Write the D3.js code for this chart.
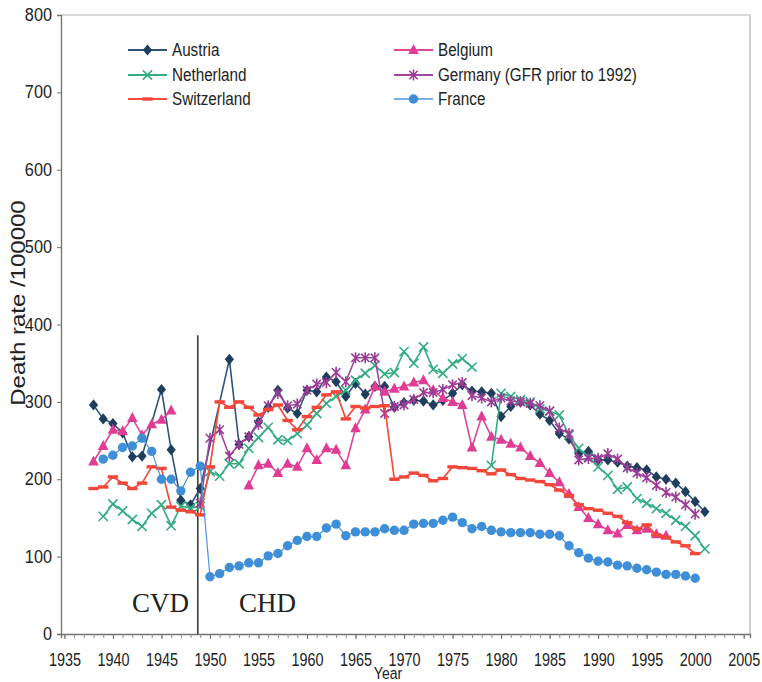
<!DOCTYPE html>
<html><head><meta charset="utf-8">
<script src="https://cdn.jsdelivr.net/npm/d3@7"></script>
<style>body{margin:0;background:#fff}svg{display:block}</style>
</head><body>
<svg id="c" width="762" height="682"></svg>
<script>
// ---------- data (death rate per 100000) ----------
const xTickYears = [1935,1940,1945,1950,1955,1960,1965,1970,1975,1980,1985,1990,1995,2000,2005];
const yTicks = [0,100,200,300,400,500,600,700,800];

const austriaStart = 1938;
const austriaValues = [296,278,272,260,229,230,null,316,238,173,167,188,null,null,
  355,245,255,274,293,315,292,285,315,313,332,326,307,324,310,320,320,293,299,302,301,296,302,311,322,314,313,311,
  281,294,300,296,284,276,259,252,233,236,225,225,222,217,215,212,203,200,195,184,171,158];

const belgiumStart = 1938;
const belgiumValues = [223,243,264,262,279,257,271,277,289,null,null,null,null,null,null,null,
  192,218,220,208,220,216,240,225,240,238,218,266,290,320,313,317,320,325,328,315,305,300,296,241,281,255,
  251,246,241,230,221,208,196,181,164,150,142,134,130,141,134,136,129,127];

const netherlandStart = 1939;
const netherlandValues = [152,168,159,148,139,156,167,140,165,163,165,
  210,204,220,220,240,254,267,251,250,259,270,285,298,307,315,328,337,347,336,338,365,350,371,342,337,349,356,345,null,218,
  311,307,303,300,291,288,283,257,240,229,216,205,187,190,175,169,162,156,147,139,127,110];

const germanyStart = 1949;
const germanyValues = [169,253,264,230,245,255,271,295,311,295,297,315,323,325,338,326,357,357,357,285,294,296,303,312,312,316,322,325,308,305,300,
  305,301,300,298,295,288,266,259,225,227,227,233,226,215,208,202,192,183,177,167,155];

const switzerlandStart = 1938;
const switzerlandValues = [188,190,203,195,188,195,216,214,164,160,158,154,
  216,300,293,300,293,283,290,296,276,264,281,293,309,313,278,294,292,294,295,200,203,208,205,198,201,216,215,214,211,207,
  212,206,201,199,197,193,186,179,167,162,160,156,152,144,136,141,128,125,119,114,104];

const franceStart = 1939;
const franceValues = [226,231,241,243,253,236,200,200,185,209,217,
  74,78,86,88,92,92,101,104,114,121,126,126,137,142,127,132,132,132,136,134,
  134,142,143,143,147,151,144,136,139,134,132,131,131,131,129,129,127,114,105,98,
  94,93,89,88,85,83,80,77,77,75,72];

const seriesNames = ["Austria","Belgium","Netherland","Germany (GFR prior to 1992)","Switzerland","France"];

// ---------- layout ----------
const X0 = 61, X1 = 750, Y0 = 634, Y1 = 15;
const svg = d3.select('#c');
const x = d3.scaleLinear().domain([1934.65, 2005.65]).range([X0, X1]);
const y = d3.scaleLinear().domain([0, 800]).range([Y0, Y1]);
const FONT = "'Liberation Sans', Arial, sans-serif";

function toPoints(start, vals){ return vals.map((v,i)=>({year:start+i, value:v})); }

const series = [
  {name:seriesNames[0], pts:toPoints(austriaStart, austriaValues), line:'#2f5479', fill:'#1f3d5c', marker:'diamond', bridge:true, lw:1.6},
  {name:seriesNames[1], pts:toPoints(belgiumStart, belgiumValues), line:'#e2449a', fill:'#e03c94', marker:'triangle', lw:1.6},
  {name:seriesNames[2], pts:toPoints(netherlandStart, netherlandValues), line:'#33ad80', fill:'#33ad80', marker:'cross', lw:1.6},
  {name:seriesNames[3], pts:toPoints(germanyStart, germanyValues), line:'#a0479d', fill:'#9c3c96', marker:'star', lw:1.6},
  {name:seriesNames[4], pts:toPoints(switzerlandStart, switzerlandValues), line:'#f24c3c', fill:'#f2473a', marker:'dash', lw:1.7},
  {name:seriesNames[5], pts:toPoints(franceStart, franceValues), line:'#4d95d8', fill:'#3f8fd8', marker:'circle', lw:1.2}
];

// frame (top and right)
svg.append('path').attr('d', `M${X0},${Y1}H${X1}V${Y0}`)
  .attr('fill','none').attr('stroke','#b4b4b4').attr('stroke-width',1.2);

// y axis
const yAx = svg.append('g').attr('transform',`translate(${X0},0)`)
  .call(d3.axisLeft(y).tickValues(yTicks).tickSize(4).tickFormat(d3.format('d')));
yAx.select('.domain').attr('stroke','#707070').attr('stroke-width',1.3);
yAx.selectAll('.tick line').attr('stroke','#707070');
yAx.selectAll('.tick text').attr('x',-9.7).attr('font-family',FONT).attr('font-size',17.5)
  .attr('fill','#222').attr('transform','scale(0.93,1)');

// x axis: minor ticks each year, labels every 5
const allYears = d3.range(1935, 2006);
const xMinor = svg.append('g').attr('transform',`translate(0,${Y0})`)
  .call(d3.axisBottom(x).tickValues(allYears).tickSize(4).tickFormat(''));
xMinor.select('.domain').attr('stroke','#707070').attr('stroke-width',1.3);
xMinor.selectAll('.tick line').attr('stroke','#8a8a8a');
const xAx = svg.append('g').attr('transform',`translate(0,${Y0})`)
  .call(d3.axisBottom(x).tickValues(xTickYears).tickSize(5).tickPadding(14).tickFormat(d3.format('d')));
xAx.select('.domain').remove();
xAx.selectAll('.tick line').attr('stroke','#707070');
xAx.selectAll('.tick text').attr('font-family',FONT).attr('font-size',18)
  .attr('fill','#222').attr('transform','scale(0.8,1)');

// axis titles
svg.append('text').attr('transform','translate(388,679) scale(0.85,1)')
  .attr('text-anchor','middle').attr('font-family',FONT).attr('font-size',16.5).attr('fill','#222').text('Year');
svg.append('text').attr('transform','translate(25,303) rotate(-90) scale(1,0.82)')
  .attr('text-anchor','middle').attr('font-family',FONT).attr('font-size',24).attr('fill','#222')
  .text('Death rate /100000');

// CVD / CHD separator
const sepYear = 1948.75;
svg.append('line').attr('x1',x(sepYear)).attr('x2',x(sepYear)).attr('y1',y(386)).attr('y2',y(0))
  .attr('stroke','#222').attr('stroke-width',1.4);
svg.append('text').attr('x',132).attr('y',612).attr('font-family',"'Liberation Serif', 'Times New Roman', serif")
  .attr('font-size',27).attr('fill','#222').text('CVD');
svg.append('text').attr('x',239).attr('y',612).attr('font-family',"'Liberation Serif', 'Times New Roman', serif")
  .attr('font-size',27).attr('fill','#222').text('CHD');

// markers
function drawMarker(g, type, color){
  if(type==='diamond') g.append('path').attr('d','M0,-5.6L4.6,0L0,5.6L-4.6,0Z').attr('fill',color);
  else if(type==='triangle') g.append('path').attr('d','M0,-6L5.3,4L-5.3,4Z').attr('fill',color);
  else if(type==='cross') g.append('path').attr('d','M-4.6,-4.6L4.6,4.6M-4.6,4.6L4.6,-4.6').attr('stroke',color).attr('stroke-width',1.6).attr('fill','none');
  else if(type==='star') g.append('path').attr('d','M-4.2,-4.2L4.2,4.2M-4.2,4.2L4.2,-4.2M0,-5.6L0,5.6').attr('stroke',color).attr('stroke-width',1.6).attr('fill','none');
  else if(type==='dash') g.append('rect').attr('x',-5.2).attr('y',-1.7).attr('width',10.4).attr('height',3.4).attr('fill',color);
  else if(type==='circle') g.append('circle').attr('r',4.7).attr('fill',color);
}

const plot = svg.append('g');
series.forEach(s=>{
  const pts = s.bridge ? s.pts.filter(p=>p.value!==null) : s.pts;
  const line = d3.line().defined(p=>p.value!==null).x(p=>x(p.year)).y(p=>y(p.value));
  plot.append('path').datum(pts).attr('d',line).attr('fill','none')
    .attr('stroke',s.line).attr('stroke-width',s.lw).attr('stroke-linejoin','round');
  const mg = plot.append('g');
  s.pts.filter(p=>p.value!==null).forEach(p=>{
    const g = mg.append('g').attr('transform',`translate(${x(p.year)},${y(p.value)})`);
    drawMarker(g, s.marker, s.fill);
  });
});

// legend (two columns, row-wise order)
const legendPos = [[128,50],[394,50],[128,75],[394,75],[128,99],[394,99]];
series.forEach((s,i)=>{
  const [lx,ly] = legendPos[i];
  const g = svg.append('g').attr('transform',`translate(${lx},${ly})`);
  g.append('line').attr('x1',0).attr('x2',39).attr('y1',0).attr('y2',0).attr('stroke',s.line).attr('stroke-width',s.lw+0.3);
  const m = g.append('g').attr('transform','translate(19.5,0)');
  drawMarker(m, s.marker, s.fill);
  g.append('text').attr('transform','translate(44,0) scale(0.87,1)').attr('dy','0.36em')
    .attr('font-family',FONT).attr('font-size',17.5).attr('fill','#222').text(s.name);
});
</script>
</body></html>
